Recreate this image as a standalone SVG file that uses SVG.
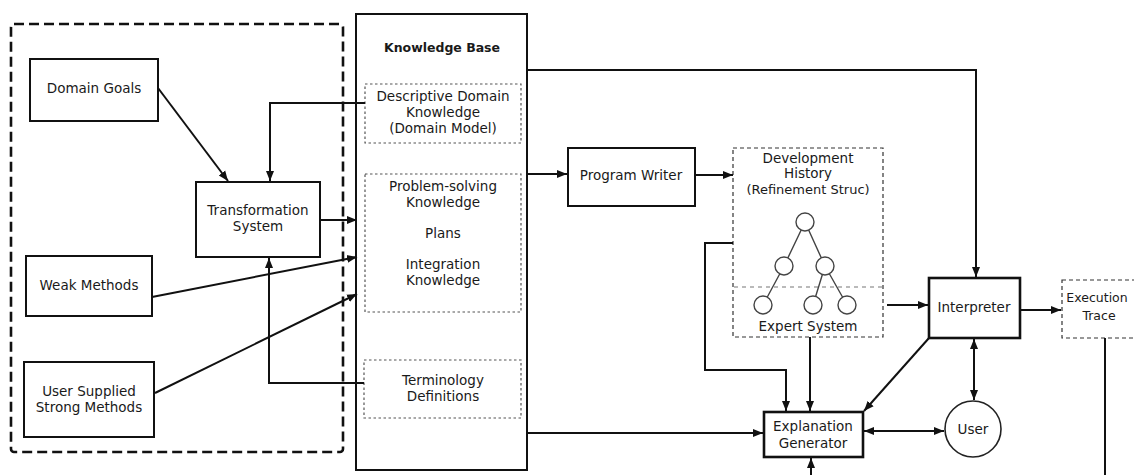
<svg xmlns="http://www.w3.org/2000/svg" width="1134" height="475" viewBox="0 0 1134 475">
  <defs>
    <marker id="arrow" markerUnits="userSpaceOnUse" markerWidth="10" markerHeight="10" viewBox="0 0 10 10" refX="10" refY="5" orient="auto-start-reverse">
      <path d="M0,1 L10,5 L0,9 Z" fill="#111"/>
    </marker>
  </defs>
  <style>
    text { font-family: "DejaVu Sans", "Liberation Sans", sans-serif; font-size: 13.5px; fill: #1a1a1a; text-anchor: middle; }
    .title { font-weight: bold; font-size: 12.5px; }
    .box { fill: #fff; stroke: #111; stroke-width: 2; }
    .thick { fill: #fff; stroke: #111; stroke-width: 2.6; }
    .dotted { fill: none; stroke: #555; stroke-width: 1.2; stroke-dasharray: 2.5 2.5; }
    .dashed { fill: none; stroke: #333; stroke-width: 1.2; stroke-dasharray: 4 3; }
    .region { fill: none; stroke: #111; stroke-width: 2.6; stroke-dasharray: 10 5; }
    .conn { fill: none; stroke: #111; stroke-width: 2; }
    .node-circle { fill: #fff; stroke: #444; stroke-width: 1.4; }
    .tree { stroke: #444; stroke-width: 1.4; fill: none; }
  </style>

  <!-- transformation environment boundary -->
  <rect class="region" x="11" y="24" width="332" height="428" rx="3"/>

  <!-- knowledge base container -->
  <g id="knowledge-base">
    <rect class="box" x="356" y="14" width="171" height="456"/>
    <text class="title" x="442" y="52">Knowledge Base</text>
  </g>

  <g id="descriptive-domain">
    <rect class="dotted" x="365" y="84" width="156" height="59"/>
    <text x="443" y="101">Descriptive Domain</text>
    <text x="443" y="117">Knowledge</text>
    <text x="443" y="133">(Domain Model)</text>
  </g>

  <g id="problem-solving">
    <rect class="dotted" x="365" y="174" width="156" height="138"/>
    <text x="443" y="191">Problem-solving</text>
    <text x="443" y="207">Knowledge</text>
    <text x="443" y="238">Plans</text>
    <text x="443" y="269">Integration</text>
    <text x="443" y="285">Knowledge</text>
  </g>

  <g id="terminology">
    <rect class="dotted" x="364" y="360" width="157" height="58"/>
    <text x="443" y="385">Terminology</text>
    <text x="443" y="401">Definitions</text>
  </g>

  <g id="domain-goals">
    <rect class="box" x="30" y="59" width="128" height="62"/>
    <text x="94" y="93">Domain Goals</text>
  </g>

  <g id="transformation-system">
    <rect class="box" x="196" y="182" width="124" height="75"/>
    <text x="258" y="215">Transformation</text>
    <text x="258" y="231">System</text>
  </g>

  <g id="weak-methods">
    <rect class="box" x="26" y="256" width="126" height="60"/>
    <text x="89" y="290">Weak Methods</text>
  </g>

  <g id="strong-methods">
    <rect class="box" x="24" y="362" width="130" height="75"/>
    <text x="89" y="396">User Supplied</text>
    <text x="89" y="412">Strong Methods</text>
  </g>

  <g id="program-writer">
    <rect class="box" x="568" y="148" width="127" height="58"/>
    <text x="631" y="180">Program Writer</text>
  </g>

  <g id="development-history">
    <rect class="dashed" x="733" y="148" width="150" height="189"/>
    <text x="808" y="163">Development</text>
    <text x="808" y="178">History</text>
    <text x="808" y="194" style="font-size:13px">(Refinement Struc)</text>
    <line x1="734" y1="287" x2="882" y2="287" stroke="#777" stroke-width="1.2" stroke-dasharray="4 4"/>
    <path class="tree" d="M805,222 L784,266 M805,222 L825,266 M784,266 L763,305 M825,266 L813,305 M825,266 L847,305"/>
    <circle class="node-circle" cx="805" cy="222" r="9"/>
    <circle class="node-circle" cx="784" cy="266" r="9"/>
    <circle class="node-circle" cx="825" cy="266" r="9"/>
    <circle class="node-circle" cx="763" cy="305" r="9"/>
    <circle class="node-circle" cx="813" cy="305" r="9"/>
    <circle class="node-circle" cx="847" cy="305" r="9"/>
    <text x="808" y="331">Expert System</text>
  </g>

  <g id="interpreter">
    <rect class="thick" x="929" y="278" width="91" height="60"/>
    <text x="974" y="312">Interpreter</text>
  </g>

  <g id="execution-trace">
    <rect class="dashed" x="1062" y="280" width="80" height="58"/>
    <text x="1097" y="302" style="font-size:12.5px">Execution</text>
    <text x="1099" y="320" style="font-size:12.5px">Trace</text>
  </g>

  <g id="explanation-generator">
    <rect class="thick" x="764" y="412" width="99" height="45"/>
    <text x="813" y="431">Explanation</text>
    <text x="813" y="448">Generator</text>
  </g>

  <g id="user">
    <circle cx="973" cy="429" r="28" fill="#fff" stroke="#222" stroke-width="1.6"/>
    <text x="973" y="434">User</text>
  </g>

  <g id="connectors">
    <!-- inputs to the transformation system -->
    <path class="conn" d="M158,88 L228,181" marker-end="url(#arrow)"/>
    <path class="conn" d="M365,103 H270 V181" marker-end="url(#arrow)"/>
    <path class="conn" d="M364,383 H269 V258" marker-end="url(#arrow)"/>
    <!-- into the knowledge base -->
    <path class="conn" d="M320,220 H357" marker-end="url(#arrow)"/>
    <path class="conn" d="M152,297 L357,257" marker-end="url(#arrow)"/>
    <path class="conn" d="M155,393 L357,294" marker-end="url(#arrow)"/>
    <!-- knowledge base outputs -->
    <path class="conn" d="M527,70 H976 V277" marker-end="url(#arrow)"/>
    <path class="conn" d="M527,174 H567" marker-end="url(#arrow)"/>
    <path class="conn" d="M527,433 H763" marker-end="url(#arrow)"/>
    <!-- program writer to development history -->
    <path class="conn" d="M695,175 H733" marker-end="url(#arrow)"/>
    <!-- development history to interpreter and explanation -->
    <path class="conn" d="M887,305 H928" marker-end="url(#arrow)"/>
    <path class="conn" d="M733,243 H705 V370 H786 V411" marker-end="url(#arrow)"/>
    <path class="conn" d="M810,337 V411" marker-end="url(#arrow)"/>
    <!-- interpreter links -->
    <path class="conn" d="M1020,310 H1061" marker-end="url(#arrow)"/>
    <path class="conn" d="M929,338 L864,411" marker-end="url(#arrow)"/>
    <path class="conn" d="M974,339 V400" marker-start="url(#arrow)" marker-end="url(#arrow)"/>
    <!-- explanation generator and user -->
    <path class="conn" d="M864,431 H944" marker-start="url(#arrow)" marker-end="url(#arrow)"/>
    <!-- execution trace feedback -->
    <path class="conn" d="M1105,338 V490 H811 V458" marker-end="url(#arrow)"/>
  </g>
</svg>
